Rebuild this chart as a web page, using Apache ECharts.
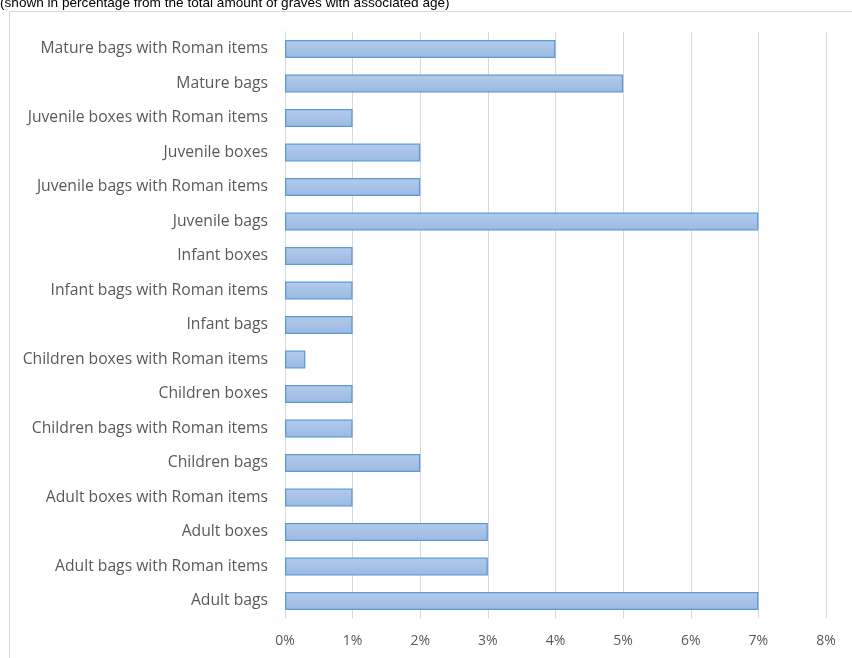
<!DOCTYPE html>
<html><head><meta charset="utf-8">
<script src="https://cdn.jsdelivr.net/npm/echarts@6/dist/echarts.min.js"></script>
<style>html,body{margin:0;padding:0;background:#fff}#c{width:852px;height:658px}</style>
</head><body><div id="c"></div>
<script>
const categories = [
  "Mature bags with Roman items","Mature bags","Juvenile boxes with Roman items","Juvenile boxes",
  "Juvenile bags with Roman items","Juvenile bags","Infant boxes","Infant bags with Roman items",
  "Infant bags","Children boxes with Roman items","Children boxes","Children bags with Roman items",
  "Children bags","Adult boxes with Roman items","Adult boxes","Adult bags with Roman items","Adult bags"
];
const values = [4,5,1,2,2,7,1,1,1,0.3,1,1,2,1,3,3,7];
const xTicks = [0,1,2,3,4,5,6,7,8];
const titleText = "(shown in percentage from the total amount of graves with associated age)";

const chart = echarts.init(document.getElementById('c'));
const font = '"Open Sans", sans-serif';
chart.setOption({
  animation:false,
  title:{text:titleText,left:-5,top:-8.5,textStyle:{fontFamily:'Arial, "Liberation Sans", sans-serif',fontSize:13.6,fontWeight:'normal',color:'#000'}},
  graphic:[{type:'rect',shape:{x:9.5,y:11.5,width:900,height:700},style:{fill:'none',stroke:'#d9d9d9',lineWidth:1},z:-1}],
  grid:{left:285,right:26,top:31.75,bottom:39.75},
  xAxis:{type:'value',min:xTicks[0],max:xTicks[xTicks.length-1],interval:1,
    axisLine:{show:false},axisTick:{show:false},
    splitLine:{lineStyle:{color:'#d9d9d9',width:1}},
    axisLabel:{formatter:v=>v+'%',color:'#595959',fontFamily:font,fontSize:14,margin:16}},
  yAxis:{type:'category',data:categories,inverse:true,
    axisLine:{lineStyle:{color:'#d9d9d9'}},axisTick:{show:false},
    axisLabel:{color:'#595959',fontFamily:font,fontSize:15.7,margin:17}},
  series:[{type:'bar',data:values,barWidth:18,
    itemStyle:{color:new echarts.graphic.LinearGradient(0,0,0,1,[{offset:0,color:'#b3cbeb'},{offset:1,color:'#9bb9e2'}]),
      borderColor:'#5b9bd5',borderWidth:1.3}}]
});
</script></body></html>
